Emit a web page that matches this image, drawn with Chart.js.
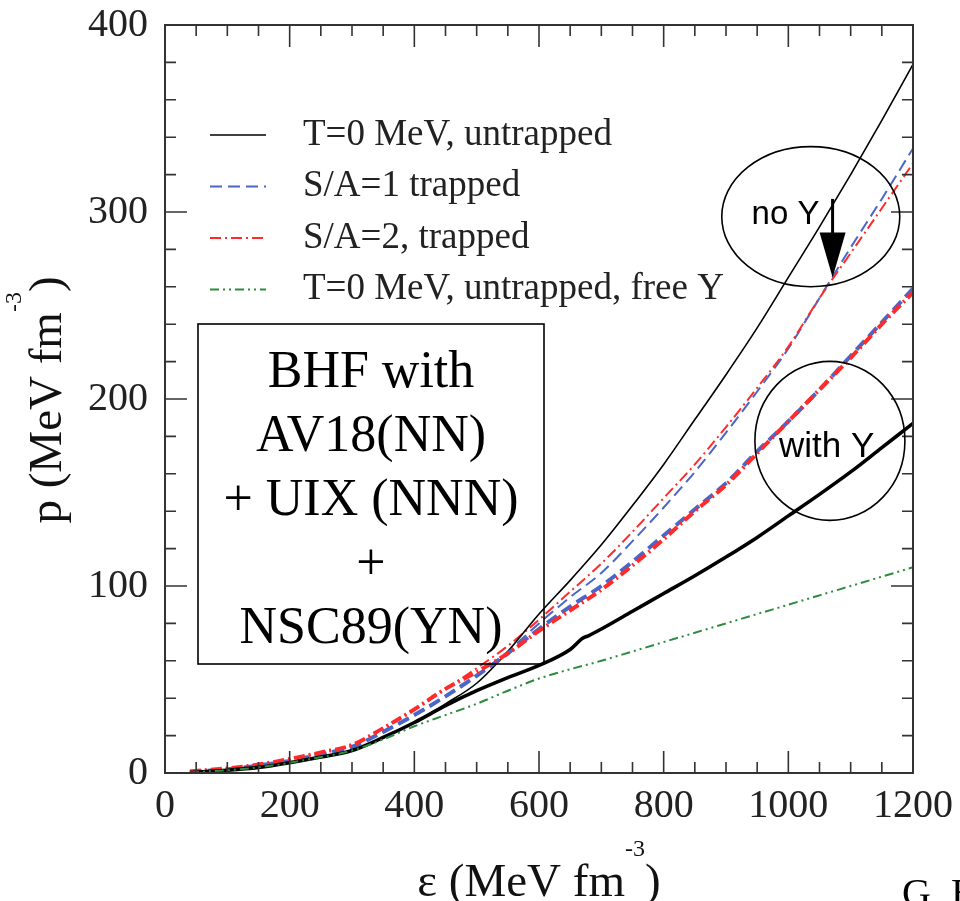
<!DOCTYPE html>
<html>
<head>
<meta charset="utf-8">
<script src="https://cdn.jsdelivr.net/npm/chart.js@4.4.1/dist/chart.umd.min.js"></script>
<style>
  html, body { margin: 0; padding: 0; background: #fff; }
  #wrap { position: relative; width: 960px; height: 901px; }
</style>
</head>
<body>
<div id="wrap"><canvas id="eosChart"></canvas></div>
<script>
// energy density grid, MeV fm^-3
const epsilon = [40, 100, 150, 200, 250, 300, 350, 400, 450, 500, 550, 600, 650, 700, 750, 800, 850, 900, 950, 1000, 1050, 1100, 1150, 1200];
// the cold hyperonic curve has a little kink near 670, so it gets its own grid
const epsilonColdY = [40, 100, 150, 200, 250, 300, 350, 400, 450, 500, 550, 600, 650, 670, 680, 700, 750, 800, 850, 900, 950, 1000, 1050, 1100, 1150, 1200];

// pressure, MeV fm^-3
const pColdNoY = [0.3, 1.5, 3, 5.5, 8.5, 12, 19, 27, 37, 48, 65, 85, 103, 122, 143, 165, 189, 213, 238, 265, 292, 320, 349, 379];
const pS1NoY = [0.5, 2, 4, 6.5, 10, 14, 22, 31, 41, 52, 65, 80, 94, 107, 124, 142, 161, 182, 204, 227, 254, 281, 307, 334];
const pS2NoY = [0.8, 2.5, 4.5, 7.5, 11, 15, 24, 34, 45, 56, 68, 82, 97, 112, 129, 147, 165, 185, 206, 228, 254, 278, 302, 326];
const pColdY = [0.3, 1.5, 3, 5.5, 8.5, 12, 19, 27, 36, 44, 51, 57.5, 66, 72, 73.5, 77, 86.5, 96, 105.5, 115.5, 126, 137.5, 149, 161, 174, 187];
const pS1Y = [0.5, 2, 4, 6.5, 10, 14, 22, 31, 41, 52, 64, 77, 89, 100, 113, 127, 141, 155, 172, 188, 205, 223, 241, 259];
const pS2Y = [0.8, 2.5, 4.5, 7.5, 11, 15, 24, 34, 45, 54, 64, 76, 87, 98, 111, 125, 140, 154, 171, 188, 205, 222, 240, 257];
const pColdFreeY = [0.3, 1.5, 3, 5.5, 8.5, 12, 18, 25, 31, 37, 44, 50.5, 55.5, 60, 65, 70, 75, 80, 85, 90, 95, 100, 105, 110];

const xTicks = [0, 200, 400, 600, 800, 1000, 1200];
const yTicks = [0, 100, 200, 300, 400];

const legendLabels = ["T=0 MeV, untrapped", "S/A=1 trapped", "S/A=2, trapped", "T=0 MeV, untrapped, free Y"];
const boxLines = ["BHF with", "AV18(NN)", "+ UIX (NNN)", "+", "NSC89(YN)"];

const SERIF = "'Liberation Serif', 'Times New Roman', serif";
const SANS = "'Liberation Sans', Arial, sans-serif";

const BLUE = "#4a66c8";
const RED = "#ff2a2a";
const GREEN = "#2a8c3c";

function pts(xs, ys) {
  return xs.map((x, i) => ({ x: x, y: ys[i] }));
}

// line styles shared by the curves and the legend samples
const styles = {
  cold: { color: "#000", width: 1.6, dash: [] },
  s1: { color: BLUE, width: 2, dash: [12, 6] },
  s2: { color: RED, width: 2, dash: [11, 4, 2, 4] },
  freeY: { color: GREEN, width: 2, dash: [9, 4, 2, 4, 2, 4] },
};

function ds(label, xs, ys, st, width) {
  return {
    label: label,
    data: pts(xs, ys),
    borderColor: st.color,
    borderWidth: width || st.width,
    borderDash: st.dash,
    pointRadius: 0,
    showLine: true,
    fill: false,
    cubicInterpolationMode: "monotone",
  };
}

// frame, inward ticks, legend, box text, circles and axis titles
const decorations = {
  id: "decorations",
  afterDraw(chart) {
    const ctx = chart.ctx;
    const a = chart.chartArea;
    const xs = chart.scales.x;
    const ys = chart.scales.y;
    const X = (v) => xs.getPixelForValue(v);
    const Y = (v) => ys.getPixelForValue(v);
    ctx.save();

    // frame
    ctx.strokeStyle = "#333";
    ctx.lineWidth = 2;
    ctx.setLineDash([]);
    ctx.strokeRect(a.left, a.top, a.right - a.left, a.bottom - a.top);

    // ticks on all four sides
    ctx.lineWidth = 1.6;
    ctx.beginPath();
    for (let v = 50; v < 1200; v += 50) {
      const len = v % 200 === 0 ? 22 : 11;
      const px = X(v);
      ctx.moveTo(px, a.bottom); ctx.lineTo(px, a.bottom - len);
      ctx.moveTo(px, a.top); ctx.lineTo(px, a.top + len);
    }
    for (let v = 20; v < 400; v += 20) {
      const len = v % 100 === 0 ? 22 : 11;
      const py = Y(v);
      ctx.moveTo(a.left, py); ctx.lineTo(a.left + len, py);
      ctx.moveTo(a.right, py); ctx.lineTo(a.right - len, py);
    }
    ctx.stroke();

    // legend
    const legendStyles = [styles.cold, styles.s1, styles.s2, styles.freeY];
    ctx.font = "37px " + SERIF;
    ctx.textBaseline = "middle";
    ctx.textAlign = "left";
    legendLabels.forEach((t, i) => {
      const y = 135 + i * 51.5;
      const st = legendStyles[i];
      ctx.strokeStyle = st.color;
      ctx.lineWidth = st.width;
      ctx.setLineDash(st.dash);
      ctx.beginPath();
      ctx.moveTo(210, y); ctx.lineTo(266, y);
      ctx.stroke();
      ctx.fillStyle = "#222";
      ctx.fillText(t, 303, y);
    });
    ctx.setLineDash([]);

    // model box
    ctx.strokeStyle = "#000";
    ctx.lineWidth = 1.6;
    ctx.strokeRect(198, 324, 346, 340);
    ctx.fillStyle = "#000";
    ctx.font = "52px " + SERIF;
    ctx.textAlign = "center";
    ctx.textBaseline = "alphabetic";
    boxLines.forEach((t, i) => ctx.fillText(t, 371, 387 + i * 64));

    // "no Y" ellipse, arrow, "with Y" circle
    ctx.lineWidth = 1.6;
    ctx.beginPath();
    ctx.ellipse(X(1036), Y(297.5), 89, 70, 0, 0, Math.PI * 2);
    ctx.stroke();
    ctx.beginPath();
    ctx.ellipse(X(1066.7), Y(177.6), 75, 79.5, 0, 0, Math.PI * 2);
    ctx.stroke();

    ctx.font = "33px " + SANS;
    ctx.textAlign = "left";
    ctx.fillText("no Y", X(941), Y(293.7));
    ctx.font = "35px " + SANS;
    ctx.fillText("with Y", X(985), Y(168.8));

    const ax = X(1071), tipY = Y(265);
    ctx.lineWidth = 3;
    ctx.beginPath();
    ctx.moveTo(ax, Y(307));
    ctx.lineTo(ax, tipY - 40);
    ctx.stroke();
    ctx.beginPath();
    ctx.moveTo(ax - 13, tipY - 45);
    ctx.lineTo(ax + 13, tipY - 45);
    ctx.lineTo(ax, tipY);
    ctx.closePath();
    ctx.fill();

    // axis titles with superscript
    function titleParts(first) {
      return [
        { t: first, sup: false },
        { t: "-3", sup: true },
        { t: ")", sup: false },
      ];
    }
    function drawTitle(parts, cx, baseY) {
      const mainFont = "47px " + SERIF;
      const supFont = "24px " + SERIF;
      let total = 0;
      parts.forEach((p) => {
        ctx.font = p.sup ? supFont : mainFont;
        p.w = ctx.measureText(p.t).width;
        total += p.w;
      });
      let x = cx - total / 2;
      ctx.textAlign = "left";
      ctx.textBaseline = "alphabetic";
      parts.forEach((p) => {
        ctx.font = p.sup ? supFont : mainFont;
        ctx.fillText(p.t, x, p.sup ? baseY - 40 : baseY);
        x += p.w;
      });
    }
    ctx.fillStyle = "#111";
    drawTitle(titleParts("\u03b5 (MeV fm"), 539, 896);
    ctx.save();
    ctx.translate(61, 400);
    ctx.rotate(-Math.PI / 2);
    drawTitle(titleParts("p (MeV fm"), 0, 0);
    ctx.restore();

    // cut-off author line at the bottom right
    ctx.font = "40px " + SERIF;
    ctx.fillStyle = "#000";
    ctx.fillText("G. B", 902, 906);

    ctx.restore();
  },
};

const ctx = document.getElementById("eosChart").getContext("2d");
new Chart(ctx, {
  type: "scatter",
  data: {
    datasets: [
      ds("T=0 MeV, untrapped, free Y", epsilon, pColdFreeY, styles.freeY),
      ds("T=0 MeV, untrapped (with Y)", epsilonColdY, pColdY, styles.cold, 3.6),
      ds("S/A=2, trapped (with Y)", epsilon, pS2Y, styles.s2, 4),
      ds("S/A=1 trapped (with Y)", epsilon, pS1Y, styles.s1, 4),
      ds("T=0 MeV, untrapped", epsilon, pColdNoY, styles.cold),
      ds("S/A=2, trapped", epsilon, pS2NoY, styles.s2),
      ds("S/A=1 trapped", epsilon, pS1NoY, styles.s1),
    ],
  },
  options: {
    responsive: true,
    maintainAspectRatio: false,
    animation: false,
    layout: { padding: { top: 25, right: 47, left: 0, bottom: 0 } },
    plugins: {
      legend: { display: false },
      tooltip: { enabled: false },
    },
    scales: {
      x: {
        type: "linear",
        min: 0,
        max: 1200,
        afterFit: (s) => { s.height = 128; s.paddingLeft = 0; s.paddingRight = 0; },
        afterBuildTicks: (s) => { s.ticks = xTicks.map((v) => ({ value: v })); },
        grid: { display: false, drawTicks: false },
        border: { display: false },
        ticks: { padding: 9, color: "#222", font: { family: SERIF, size: 40 }, maxRotation: 0, callback: (v) => String(v) },
      },
      y: {
        type: "linear",
        min: 0,
        max: 400,
        afterFit: (s) => { s.width = 165; s.paddingTop = 0; s.paddingBottom = 0; },
        afterBuildTicks: (s) => { s.ticks = yTicks.map((v) => ({ value: v })); },
        grid: { display: false, drawTicks: false },
        border: { display: false },
        ticks: { padding: 17, color: "#222", font: { family: SERIF, size: 40 }, callback: (v) => String(v) },
      },
    },
  },
  plugins: [decorations],
});
</script>
</body>
</html>
